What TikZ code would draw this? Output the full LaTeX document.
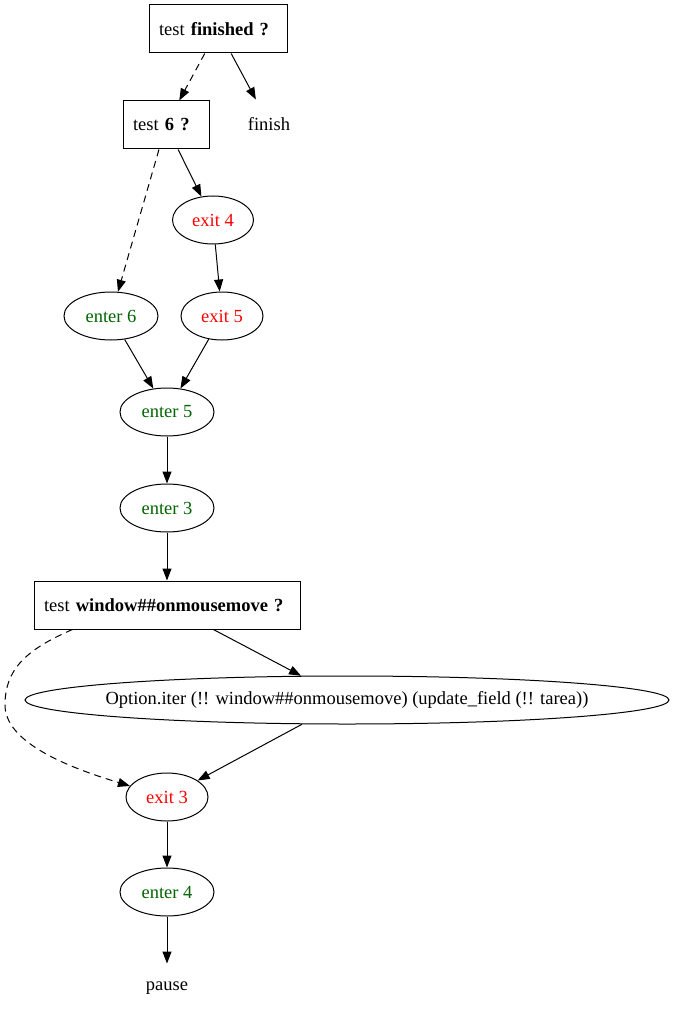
\documentclass[tikz,border=0pt]{standalone}
\usepackage{fontspec}
\setmainfont{Liberation Serif}
\usetikzlibrary{shapes.geometric,arrows.meta}
\definecolor{darkgreen}{RGB}{0,100,0}
\tikzset{
  testbox/.style={draw, rectangle, minimum height=48pt, inner xsep=10pt, inner ysep=0pt, align=left},
  enterst/.style={draw, ellipse, minimum width=94pt, minimum height=48pt, inner sep=0pt, text=darkgreen},
  exitst/.style={draw, ellipse, minimum width=82pt, minimum height=48pt, inner sep=0pt, text=red},
  plainst/.style={minimum width=54pt, minimum height=48pt, inner sep=0pt},
  flow/.style={-{Triangle[length=12pt,width=9pt]}, line width=1pt},
  skipflow/.style={flow, dash pattern=on 7pt off 5pt}
}
\begin{document}
\begin{tikzpicture}[x=1pt,y=-1pt,line width=1pt,font=\fontsize{18.5}{22}\selectfont]
\useasboundingbox[fill=white] (0,0) rectangle (674,1019);
% Drawing tests
\node[testbox, text width=118pt] (tfin) at (218,29) {test \textbf{finished ?}};
\node[plainst] (finish) at (269,124) {finish};
\node[testbox, text width=66pt] (tsix) at (166,125) {test \textbf{6 ?}};
% Drawing enter and exit nodes
\node[exitst, minimum width=81pt] (exitfour) at (213,220) {exit 4};
\node[enterst] (entersix) at (111,316) {enter 6};
\node[exitst] (exitfive) at (222,316) {exit 5};
\node[enterst] (enterfive) at (167,412) {enter 5};
\node[enterst] (enterthree) at (167,508) {enter 3};
\node[testbox, text width=246pt] (twin) at (167,605) {test \textbf{window\#\#onmousemove ?}};
\node[draw, ellipse, minimum width=644pt, minimum height=48pt, inner xsep=-20pt, inner ysep=0pt] (optiter) at (347,700)
  {Option.iter (!! window\#\#onmousemove) (update\_field (!! tarea))};
\node[exitst] (exitthree) at (167,797) {exit 3};
\node[enterst] (enterfour) at (167,892) {enter 4};
\node[plainst] (pause) at (167,988) {pause};
% Done with nodes; drawing edges
\draw[skipflow] (tfin) -- (tsix);
\draw[flow] (tfin) -- (finish);
\draw[skipflow] (tsix) -- (entersix);
\draw[flow] (tsix) -- (exitfour);
\draw[flow] (exitfour) -- (exitfive);
\draw[flow] (entersix) -- (enterfive);
\draw[flow] (exitfive) -- (enterfive);
\draw[flow] (enterfive) -- (enterthree);
\draw[flow] (enterthree) -- (twin);
\draw[flow] (twin) -- (optiter);
\draw[flow] (optiter) -- (exitthree);
% the else branch goes round the left side
\draw[skipflow] (twin.south west) ++(39,0) .. controls (25,650) and (5,670) .. (5,705)
  .. controls (5,740) and (60,765) .. (exitthree);
\draw[flow] (exitthree) -- (enterfour);
\draw[flow] (enterfour) -- (pause);
\end{tikzpicture}
\end{document}
